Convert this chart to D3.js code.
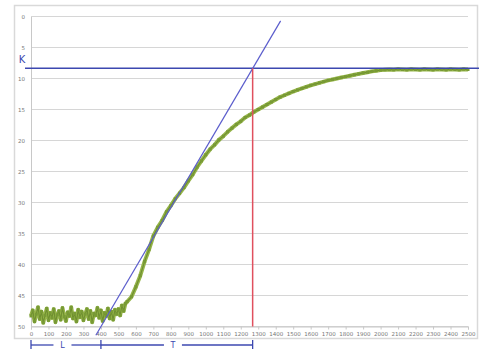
<!DOCTYPE html>
<html><head><meta charset="utf-8">
<script src="https://cdn.jsdelivr.net/npm/d3@7"></script>
<style>body{margin:0;background:#fff}svg{display:block}</style>
</head><body>
<script>
// ---- data ----
// noisy baseline before the step response (every 10 s)
const flatTimes = d3.range(0, 541, 10);
const flatResponse = [48.3,47.4,49.2,48.0,46.9,48.8,47.6,49.4,48.2,47.1,
49.0,47.8,48.6,47.2,49.3,48.1,47.5,48.9,47.0,48.4,
49.1,47.7,48.3,46.9,48.7,47.9,49.2,47.3,48.5,47.6,
49.0,48.0,47.2,48.8,47.5,49.3,47.9,48.2,47.0,48.6,
47.4,49.1,47.8,48.3,47.1,48.7,47.6,48.9,47.3,48.0,
47.2,48.2,46.6,47.5,46.3];
// response after the step (every 25 s)
const riseTimes = d3.range(550, 2501, 25);
const riseResponse = [46.0,45.2,43.6,41.8,39.5,37.6,35.4,34.0,32.9,31.5,30.5,29.4,28.5,27.6,26.5,25.5,24.3,23.3,
22.3,21.4,20.7,19.9,19.3,18.6,18.0,17.4,16.9,16.3,15.9,15.4,15.0,14.6,14.2,13.8,13.4,13.0,12.7,12.4,
12.1,11.85,11.6,11.35,11.1,10.9,10.7,10.5,10.3,10.15,10.0,9.85,9.7,9.55,9.4,9.25,9.1,9.0,8.85,8.75,
8.65,8.6,8.55,8.6,8.5,8.55,8.6,8.5,8.55,8.6,8.5,8.55,8.6,8.5,8.55,8.6,8.5,8.55,8.6,8.5,8.55];
const xTicks = d3.range(0, 2501, 100);
const yTicks = d3.range(0, 51, 5);
const K = 8.35;
const tangentX = [371, 1428];
const tangentY = [51.4, 0.7];
const L = 400;
const Tend = 1268;
const labelL = {text: "L", at: 180};
const labelT = {text: "T", at: 812};

// ---- layout ----
const W = 479, H = 349;
const svg = d3.select("body").append("svg").attr("width", W).attr("height", H);
const x = d3.scaleLinear().domain([0, 2500]).range([31, 468]);
const y = d3.scaleLinear().domain([0, 50]).range([16.5, 326.5]);

// frame
svg.append("rect").attr("x", 14.5).attr("y", 5.5).attr("width", 463).attr("height", 333)
  .attr("fill", "#fff").attr("stroke", "#d9d9d9").attr("stroke-width", 1.5);

// gridlines
svg.append("g").selectAll("line").data(yTicks).join("line")
  .attr("x1", x(0)).attr("x2", x(2500)).attr("y1", d => y(d)).attr("y2", d => y(d))
  .attr("stroke", "#d6d6d6").attr("stroke-width", 1);

// y axis
const ya = svg.append("g").attr("transform", `translate(${x(0)},0)`)
  .call(d3.axisLeft(y).tickValues(yTicks).tickSize(0).tickPadding(6).tickFormat(d3.format("d")));
ya.select(".domain").attr("stroke", "#c8c8c8");
ya.selectAll("text").attr("fill", "#777").style("font", "5.5px 'DejaVu Sans'");

// x axis
const xa = svg.append("g").attr("transform", `translate(0,${y(50)})`)
  .call(d3.axisBottom(x).tickValues(xTicks).tickSize(3).tickPadding(3).tickFormat(d3.format("d")));
xa.select(".domain").attr("stroke", "#c8c8c8");
xa.selectAll(".tick line").attr("stroke", "#c8c8c8");
xa.selectAll("text").attr("fill", "#777").style("font", "5.5px 'DejaVu Sans'");

// response data
const pts = flatTimes.map((t, i) => [t, flatResponse[i]])
  .concat(riseTimes.map((t, i) => [t, riseResponse[i]]));
const line = d3.line().x(d => x(d[0])).y(d => y(d[1]));
svg.append("path").datum(pts).attr("d", line).attr("fill", "none")
  .attr("stroke", "#96b54a").attr("stroke-width", 4).attr("stroke-linejoin", "round");
svg.append("path").datum(pts).attr("d", line).attr("fill", "none")
  .attr("stroke", "#6f8f30").attr("stroke-width", 1.2).attr("stroke-linejoin", "round");
svg.append("g").selectAll("rect").data(pts).join("rect")
  .attr("x", d => x(d[0]) - 1.5).attr("y", d => y(d[1]) - 1.5).attr("width", 3).attr("height", 3)
  .attr("fill", "#789a35");

// K line
svg.append("line").attr("x1", 25).attr("x2", W).attr("y1", y(K)).attr("y2", y(K))
  .attr("stroke", "#3c48b0").attr("stroke-width", 1.3);
svg.append("text").attr("x", 22).attr("y", y(K) - 5).attr("text-anchor", "middle")
  .attr("fill", "#3c48b0").style("font", "10px 'DejaVu Sans'").text("K");

// tangent
svg.append("line").attr("x1", x(tangentX[0])).attr("y1", y(tangentY[0]))
  .attr("x2", x(tangentX[1])).attr("y2", y(tangentY[1]))
  .attr("stroke", "#5a5ccc").attr("stroke-width", 1.2);

// red vertical
svg.append("line").attr("x1", x(Tend)).attr("x2", x(Tend)).attr("y1", y(K)).attr("y2", y(50))
  .attr("stroke", "#e0505e").attr("stroke-width", 1.5);

// brackets
const by = 345;
const bc = "#3c48b0";
function bracket(a, b, lab) {
  const g = svg.append("g");
  const lx = x(lab.at);
  g.append("line").attr("x1", x(a)).attr("x2", lx - 9).attr("y1", by).attr("y2", by).attr("stroke", bc).attr("stroke-width", 1.3);
  g.append("line").attr("x1", lx + 9).attr("x2", x(b)).attr("y1", by).attr("y2", by).attr("stroke", bc).attr("stroke-width", 1.3);
  g.append("text").attr("x", lx).attr("y", by + 3).attr("text-anchor", "middle")
    .attr("fill", bc).style("font", "8px 'DejaVu Sans'").text(lab.text);
}
bracket(0, L, labelL);
bracket(L, Tend, labelT);
svg.append("g").selectAll("line").data([0, L, Tend]).join("line")
  .attr("x1", d => x(d)).attr("x2", d => x(d)).attr("y1", 340).attr("y2", 349)
  .attr("stroke", bc).attr("stroke-width", 1.3);
</script>
</body></html>
